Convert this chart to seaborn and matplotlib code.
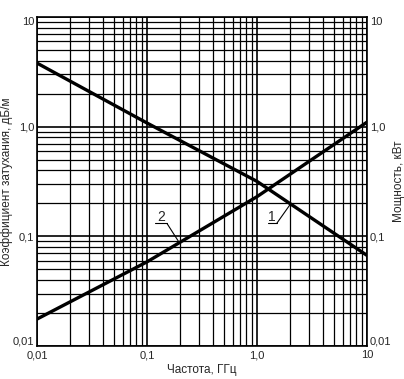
import matplotlib
matplotlib.use('Agg')
import matplotlib.pyplot as plt
import matplotlib.ticker as mticker
import numpy as np
import pandas as pd
import seaborn as sns

# data (log-log chart)
freq = [0.01, 0.1, 1.0, 10.0]            # GHz
atten = [3.8, 1.08, 0.317, 0.067]        # curve 1, dB/m
power = [0.0176, 0.0585, 0.23, 1.1]      # curve 2, kW

tick_vals = [0.01, 0.1, 1.0, 10.0]
tick_labels = ['0,01', '0,1', '1,0', '10']

df = pd.DataFrame({'freq': freq, 'atten': atten, 'power': power})

sns.set_style("white")
plt.rcParams['font.family'] = ['Liberation Sans', 'DejaVu Sans']
plt.rcParams['font.size'] = 8

fig = plt.figure(figsize=(4.04, 3.79), dpi=100)
ax = fig.add_axes([37/404, 1 - 346/379, 330/404, 329/379])

ax.set_xscale('log')
ax.set_yscale('log')
ax.set_xlim(0.01, 10)
ax.set_ylim(0.01, 10)

# grid on every decade and sub-decade
ax.xaxis.set_minor_locator(mticker.LogLocator(base=10, subs=np.arange(2, 10)))
ax.yaxis.set_minor_locator(mticker.LogLocator(base=10, subs=np.arange(2, 10)))
ax.grid(True, which='major', color='black', lw=1.2)
ax.grid(True, which='minor', color='black', lw=0.9)
ax.set_axisbelow(True)

sns.lineplot(data=df, x='freq', y='atten', color='black', lw=2.4, ax=ax)
sns.lineplot(data=df, x='freq', y='power', color='black', lw=2.4, ax=ax)

ax.xaxis.set_major_locator(mticker.FixedLocator(tick_vals))
ax.xaxis.set_major_formatter(mticker.FixedFormatter(tick_labels))
ax.yaxis.set_major_locator(mticker.FixedLocator(tick_vals))
ax.yaxis.set_major_formatter(mticker.FixedFormatter(tick_labels))
ax.xaxis.set_minor_formatter(mticker.NullFormatter())
ax.yaxis.set_minor_formatter(mticker.NullFormatter())
ax.tick_params(which='both', length=0, pad=2, labelsize=8)
ax.tick_params(axis='x', pad=3)

for s in ax.spines.values():
    s.set_color('black')
    s.set_linewidth(1.2)

ax.set_xlabel('Частота, ГГц', fontsize=8.5, labelpad=3)
ax.set_ylabel('Коэффициент затухания, дБ/м', fontsize=8.5)
ax.yaxis.set_label_coords(-0.073, 0.5)

ax2 = ax.twinx()
ax2.set_yscale('log')
ax2.set_ylim(0.01, 10)
ax2.yaxis.set_major_locator(mticker.FixedLocator(tick_vals))
ax2.yaxis.set_major_formatter(mticker.FixedFormatter(tick_labels))
ax2.yaxis.set_minor_locator(mticker.NullLocator())
ax2.tick_params(which='both', length=0, pad=2, labelsize=8)
ax2.set_ylabel('Мощность, кВт', fontsize=8.5, labelpad=1)
for s in ax2.spines.values():
    s.set_visible(False)

# end labels kept inside the frame height, as in the reference
fig.canvas.draw()
for a in (ax, ax2):
    labs = a.get_yticklabels()
    labs[0].set_va('bottom')
    labs[-1].set_va('top')

# curve labels with underline and leader line
ax.text(0.134, 0.149, '2', fontsize=10, ha='center', va='center')
ax.plot([0.118, 0.152], [0.131, 0.131], color='black', lw=0.8)
ax.plot([0.152, 0.196], [0.131, 0.088], color='black', lw=0.8)

ax.text(1.37, 0.149, '1', fontsize=10, ha='center', va='center')
ax.plot([1.26, 1.51], [0.131, 0.131], color='black', lw=0.8)
ax.plot([1.51, 2.0], [0.131, 0.195], color='black', lw=0.8)

fig.savefig('out.png', dpi=100)
